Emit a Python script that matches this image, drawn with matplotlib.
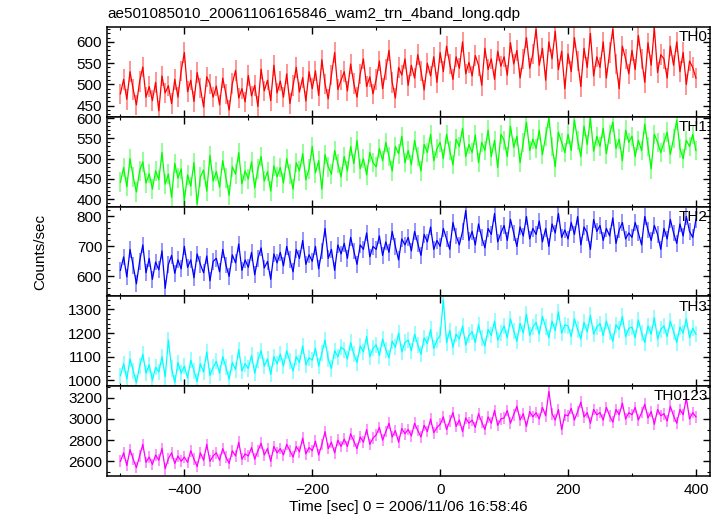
import numpy as np
import matplotlib
matplotlib.use("Agg")
import matplotlib.pyplot as plt
from matplotlib.ticker import MultipleLocator

plt.rcParams['font.family'] = ['Liberation Sans', 'DejaVu Sans']

TITLE = "ae501085010_20061106165846_wam2_trn_4band_long.qdp"
XLABEL = "Time [sec] 0 = 2006/11/06 16:58:46"
YLABEL = "Counts/sec"

# time bins (sec): start, bin width
t_start = -500
t_bin = 5

band_names = ["TH0", "TH1", "TH2", "TH3", "TH0123"]

th0 = [
    478, 512, 465, 530, 488, 452, 507, 541, 470, 495,
    462, 505, 438, 520, 480, 497, 455, 512, 470, 532,
    575, 483, 510, 460, 528, 492, 447, 518, 501, 470,
    496, 452, 515, 478, 440, 502, 533, 468, 490, 459,
    521, 473, 498, 448, 536, 485, 510, 462, 545, 480,
    508, 470, 525, 455, 498, 540, 482, 516, 461, 530,
    490, 532, 474, 558, 501, 466, 522, 575, 488, 510,
    530, 485, 548, 502, 470, 525, 560, 495, 518, 478,
    512, 555, 490, 535, 580, 505, 468, 540, 522, 560,
    498, 545, 515, 570, 532, 487, 550, 520, 565, 505,
    575, 530, 590, 548, 512, 565, 538, 600, 525, 552,
    520, 568, 545, 498, 585, 535, 560, 512, 578, 543,
    565, 522, 598, 548, 580, 515, 560, 610, 538, 572,
    630, 545, 585, 510, 600, 560, 625, 535, 578, 490,
    572, 530, 610, 555, 495, 585, 540, 620, 520, 565,
    540, 600, 515, 575, 630, 548, 490, 590, 560, 525,
    580, 535, 615, 560, 505, 598, 545, 632, 528, 570,
    560, 515, 590, 545, 600, 530, 575, 500, 555, 540,
    515,
]

th1 = [
    442, 478, 431, 500, 455, 418, 470, 492, 440, 463,
    425, 470, 448, 515, 437, 462, 405, 488, 452, 475,
    398, 460, 432, 490, 388, 455, 472, 420, 508, 445,
    468, 430, 495, 452, 410, 480, 462, 515, 438, 470,
    450, 492, 428, 475, 505, 445, 468, 420, 482, 455,
    478, 440, 500, 462, 425, 490, 470, 512, 448, 475,
    530, 465, 495, 425, 510, 480, 462, 520, 488, 455,
    505, 470, 530, 488, 545, 475, 500, 460, 515, 490,
    480, 525, 495, 540, 505, 470, 530, 512, 555, 490,
    520, 485, 545, 505, 470, 535, 515, 560, 495, 525,
    540, 500, 560, 520, 485, 548, 530, 575, 505, 535,
    515, 558, 490, 540, 520, 570, 505, 545, 478, 560,
    545, 505, 580, 528, 555, 490, 540, 590, 520, 548,
    525, 570, 510, 555, 600, 530, 480, 565, 540, 515,
    560, 520, 595, 545, 505, 580, 535, 600, 518, 555,
    530, 575, 512, 560, 590, 525, 548, 495, 570, 540,
    555, 505, 545, 520, 585, 530, 475, 560, 540, 515,
    540, 565, 510, 550, 595, 525, 500, 545, 530, 560,
    520,
]

th2 = [
    620, 665, 598, 690, 635, 575, 650, 705, 612, 660,
    590, 648, 622, 685, 560, 640, 670, 610, 655, 625,
    700, 630, 655, 595, 675, 640, 612, 668, 585, 650,
    660, 615, 690, 638, 600, 672, 645, 708, 620, 655,
    630, 680, 605, 660, 695, 628, 650, 590, 675, 645,
    680, 635, 700, 655, 615, 690, 660, 720, 640, 672,
    650, 700, 625, 685, 760, 660, 690, 620, 705, 675,
    710, 660, 730, 685, 640, 705, 690, 745, 665, 700,
    690, 735, 670, 715, 680, 750, 700, 655, 725, 705,
    730, 685, 750, 710, 670, 740, 715, 765, 690, 720,
    700, 760, 725, 690, 780, 735, 705, 750, 820, 720,
    750, 705, 775, 730, 695, 760, 740, 810, 715, 745,
    770, 720, 790, 745, 700, 765, 735, 800, 725, 760,
    740, 785, 715, 760, 700, 775, 745, 810, 730, 755,
    725, 780, 740, 800, 705, 765, 745, 690, 790, 750,
    770, 720, 760, 735, 795, 710, 755, 780, 725, 745,
    730, 780, 745, 705, 800, 755, 720, 770, 740, 690,
    760, 725, 790, 745, 710, 775, 735, 800, 750, 730,
    790,
]

th3 = [
    1020, 1070, 1005, 1090, 1040, 990, 1060, 1110, 1030, 1065,
    1000, 1055, 1035, 1100, 1015, 1170, 1050, 990, 1075, 1030,
    1060, 1010, 1085, 1040, 995, 1070, 1035, 1120, 1020, 1055,
    1080, 1030, 1100, 1055, 1005, 1075, 1045, 1130, 1040, 1070,
    1050, 1105, 1030, 1085, 1125, 1060, 1090, 1025, 1100, 1070,
    1110, 1060, 1125, 1080, 1040, 1100, 1075, 1145, 1065, 1095,
    1085, 1135, 1060, 1115, 1170, 1090, 1050, 1125, 1100, 1140,
    1130, 1090, 1160, 1110, 1075, 1145, 1120, 1185, 1100, 1135,
    1150, 1105, 1175, 1130, 1095, 1165, 1140, 1200, 1120, 1160,
    1170, 1125, 1195, 1150, 1110, 1180, 1155, 1215, 1135, 1170,
    1190, 1340, 1160, 1210, 1140, 1195, 1175, 1230, 1150, 1190,
    1205, 1160, 1235, 1180, 1145, 1215, 1190, 1250, 1170, 1200,
    1230, 1180, 1260, 1210, 1165, 1240, 1200, 1280, 1190, 1225,
    1245, 1195, 1270, 1225, 1180, 1250, 1210, 1290, 1200, 1235,
    1230, 1185, 1260, 1215, 1175, 1245, 1205, 1275, 1195, 1225,
    1240, 1190, 1250, 1205, 1165, 1235, 1215, 1270, 1185, 1220,
    1225, 1180, 1255, 1200, 1160, 1230, 1195, 1265, 1175, 1215,
    1230, 1185, 1250, 1205, 1160, 1225, 1200, 1260, 1180, 1220,
    1195,
]

th0123 = [
    2600, 2680, 2560, 2710, 2620, 2540, 2650, 2760, 2590, 2640,
    2570, 2660, 2610, 2720, 2530, 2625, 2680, 2580, 2650, 2600,
    2640, 2590, 2700, 2620, 2550, 2680, 2610, 2760, 2600, 2650,
    2680, 2610, 2720, 2640, 2580, 2700, 2650, 2780, 2620, 2670,
    2650, 2730, 2620, 2700, 2770, 2660, 2720, 2600, 2740, 2680,
    2720, 2660, 2760, 2700, 2640, 2740, 2690, 2820, 2670, 2730,
    2700, 2790, 2660, 2760, 2880, 2720, 2780, 2680, 2800, 2740,
    2810, 2740, 2860, 2790, 2720, 2830, 2780, 2900, 2760, 2820,
    2850, 2920, 2800, 2880, 2960, 2830, 2890, 2780, 2910, 2860,
    2900, 2840, 2960, 2890, 2830, 2940, 2880, 3000, 2870, 2920,
    2950, 3020, 2900, 2980, 3060, 2930, 2990, 2880, 3010, 2960,
    2990, 2920, 3050, 2970, 2900, 3020, 2960, 3080, 2940, 3000,
    3010, 3080, 2960, 3040, 3120, 2990, 3050, 2930, 3070, 3020,
    3060, 3000, 3110, 3030, 3260, 3050, 2990, 3090, 2900, 3040,
    3030, 3100, 2990, 3070, 3160, 3020, 3060, 2960, 3090, 3040,
    3060, 2990, 3110, 3030, 2970, 3090, 3040, 3150, 3000, 3060,
    3040, 3110, 2990, 3060, 3140, 3010, 3070, 2950, 3090, 3030,
    3050, 2980, 3120, 3030, 2960, 3090, 3040, 3200, 3000, 3060,
    3020,
]

# typical 1-sigma error per band (counts/sec)
errors = [24, 24, 28, 34, 55]

series = [th0, th1, th2, th3, th0123]
colors = ["#ff0000", "#00ff00", "#0000ff", "#00ffff", "#ff00ff"]
ylims = [(424, 635), (382, 603), (533, 833), (975, 1355), (2461, 3310)]
major_steps = [50, 50, 100, 100, 200]
minor_steps = [10, 10, 20, 20, 100]
xlim = (-521, 422)
FS = 11.0

fig = plt.figure(figsize=(7.23, 5.16), dpi=100)
left, right = 107 / 723, 710 / 723
top, bottom = 1 - 27 / 516, 1 - 476 / 516
h = (top - bottom) / 5

axes = []
for i, (name, y, c, err) in enumerate(zip(band_names, series, colors, errors)):
    ax = fig.add_axes([left, top - (i + 1) * h, right - left, h])
    y = np.asarray(y, dtype=float)
    t = t_start + t_bin * np.arange(len(y))
    ax.errorbar(t, y, yerr=err, fmt='none', ecolor=c, elinewidth=1.3,
                alpha=0.45)
    ax.plot(t, y, color=c, lw=0.9)
    ax.set_xlim(*xlim)
    ax.set_ylim(*ylims[i])
    ax.yaxis.set_major_locator(MultipleLocator(major_steps[i]))
    ax.yaxis.set_minor_locator(MultipleLocator(minor_steps[i]))
    ax.xaxis.set_major_locator(MultipleLocator(200))
    ax.xaxis.set_minor_locator(MultipleLocator(100))
    ax.tick_params(which='both', direction='in', top=True, right=True,
                   labelsize=FS, colors='black')
    ax.tick_params(which='major', length=5, width=1.0)
    ax.tick_params(which='minor', length=2.5, width=0.8)
    ax.tick_params(axis='x', pad=5)
    for sp in ax.spines.values():
        sp.set_linewidth(1.1)
    if i < 4:
        ax.tick_params(labelbottom=False)
    ax.text(0.996, 0.965, name, transform=ax.transAxes, ha='right', va='top',
            fontsize=FS)
    axes.append(ax)

axes[-1].set_xticks([-400, -200, 0, 200, 400])
axes[-1].set_xticklabels(["\u2212400", "\u2212200", "0", "200", "400"])
fig.text((left + right) / 2, 1 - 507 / 516, XLABEL, ha='center',
         va='center', fontsize=FS)
fig.text(left, 1 - 14 / 516, TITLE, ha='left', va='center', fontsize=FS)
fig.text(40 / 723, (top + bottom) / 2, YLABEL, rotation=90, ha='center',
         va='center', fontsize=FS)

fig.savefig("out.png", dpi=100)
